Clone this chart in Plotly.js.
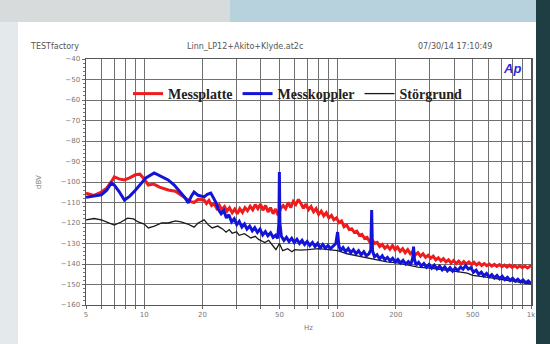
<!DOCTYPE html>
<html><head><meta charset="utf-8">
<script src="https://cdn.plot.ly/plotly-3.0.1.min.js"></script>
<style>html,body{margin:0;padding:0;background:#fff;}#chart{width:550px;height:344px;}</style>
</head><body><div id="chart"></div>
<script>
// Frequencies (Hz) and levels (dBV)
const redFreq = [5.0,5.5,6.0,6.4,6.8,7.0,7.4,7.9,8.4,9.0,9.5,10.0,10.5,11.2,12.0,13.3,14.5,15.5,16.5,17.3,18.1,19.0,
20.4,21,21.6,22.3,23,23.7,24.4,25.2,26,26.8,27.6,28.5,29.4,30.3,31.2,32.2,33.2,34.2,35.3,36.4,37.5,38.7,39.9,41.1,42.4,43.7,45,46.4,47.8,49.2,50.7,52.3,53.9,55.5,57.2,59,60.8,62.7,64.6,66.6,68.6,70.7,72.9,75.1,77.4,79.8,82.3,84.8,87.4,90.1,92.9,95.7,98.7,101.7,104.8,108,111.4,114.8,118.3,122,125.7,129.6,133.6,137.7,141.9,146.3,150.8,155.4,160.2,165.1,170.2,175.5,180.9,186.4,192.2,198.1,204.2,210.5,217,223.6,230.5,237.6,245,252.5,260.3,268.3,276.5,285,293.8,302.9,312.2,321.8,331.7,341.9,352.4,363.3,374.5,386,397.9,410.1,422.7,435.7,449.2,463,477.2,491.9,507.1,522.7,538.8,555.4,572.5,590.1,608.3,627,646.4,666.3,686.8,708,729.8,752.2,775.4,799.3,823.9,849.3,875.4,902.4,930.2,958.9,988.4,1000];
const redDb = [-105.4,-106.5,-104.9,-103.0,-99.5,-97.5,-98.5,-99.0,-98.0,-96.5,-96.2,-98.5,-101.5,-101.0,-102.5,-103.9,-104.5,-106.5,-108.0,-109.5,-110.0,-108.5,
-108.8,-110.5,-109.0,-111.5,-110.5,-112.8,-111.2,-113.5,-112.0,-114.2,-112.6,-115.0,-113.2,-115.5,-113.0,-114.8,-112.5,-114.0,-111.8,-113.6,-111.0,-113.0,-110.8,-113.8,-111.5,-114.6,-112.5,-115.5,-113.2,-116.2,-113.0,-111.5,-113.0,-110.0,-112.5,-109.5,-111.0,-108.5,-110.5,-112.8,-110.8,-113.5,-112.0,-114.5,-113.0,-115.8,-114.2,-116.5,-115.0,-117.5,-116.3,-118.4,-117.5,-119.8,-119.0,-121.8,-121.0,-123.2,-122.8,-124.6,-124.0,-126.0,-125.5,-127.5,-127.0,-129.0,-128.3,-130.0,-129.5,-131.5,-130.5,-132.3,-131.2,-132.8,-131.0,-133.0,-131.8,-133.8,-132.5,-134.5,-133.0,-135.0,-133.8,-135.5,-134.5,-136.2,-135.0,-136.8,-135.8,-137.2,-136.2,-138.0,-137.0,-138.5,-137.4,-139.0,-138.0,-139.5,-138.3,-139.8,-138.6,-140.0,-138.8,-140.0,-139.0,-140.2,-139.2,-140.5,-139.5,-140.7,-139.8,-140.8,-140.0,-141.0,-140.2,-141.2,-140.3,-141.3,-140.5,-141.5,-140.6,-141.6,-140.8,-141.8,-140.9,-141.8,-141.0,-141.9,-141.1,-141.5];

const blueFreq = [5.0,5.5,6.0,6.4,6.76,7.0,7.4,7.9,8.4,9.0,9.5,10.2,11.26,12.0,13.3,14.3,15.5,16.2,16.9,17.5,18.1,19.0,20.4,21.2,
22.1,22.8,23.5,24.2,25,25.8,26.6,27.4,28.3,29.2,30.1,31,32,33,34,35.1,36.2,37.3,38.5,39.7,41,42.3,43.6,45,46.4,47.8,49.0,49.7,50,50.3,51.2,52.8,54.4,56.1,57.9,59.7,61.6,63.5,65.5,67.5,69.6,71.8,74.1,76.4,78.8,81.3,83.8,86.5,89.2,92,94.9,97.9,100,101.5,103.5,106.7,110,113.5,117,120.7,124.5,128.4,132.4,136.6,140.9,145.3,148.5,150,151.5,155,159.9,164.9,170.1,175.5,181,186.7,192.6,198.7,205,211.4,218,224.9,232,239.3,244.5,247,249.5,254.5,262.5,270.8,279.4,288.2,297.3,306.7,316.4,326.4,336.7,347.3,358.3,369.6,381.3,393.3,405.7,418.5,431.7,445.3,459.4,473.9,488.8,504.3,520.2,536.6,553.5,571,589,607.6,626.8,646.6,667,688,709.7,732.1,755.2,779,803.6,829,855.1,882.1,910,938.7,968.3,1000];
const blueDb = [-107.5,-107.0,-106.3,-104.0,-100.5,-101.5,-104.5,-108.8,-107.0,-104.0,-101.5,-98.0,-95.6,-97.0,-99.0,-101.5,-105.4,-107.5,-110.2,-107.0,-104.9,-106.5,-107.3,-106.0,
-105.4,-107.5,-110.0,-113.5,-115.5,-114.0,-117.5,-116.0,-119.5,-118.0,-120.8,-119.2,-122.0,-120.5,-123.0,-121.5,-123.8,-122.3,-124.6,-123.0,-125.8,-124.2,-126.2,-124.8,-127.0,-126.0,-127.5,-120.0,-95.1,-120.0,-126.5,-128.5,-127.0,-129.0,-127.5,-129.5,-128.0,-130.0,-128.5,-130.5,-129.0,-131.0,-129.5,-131.5,-130.0,-132.0,-130.5,-132.3,-131.0,-132.5,-131.2,-130.0,-124.4,-131.0,-133.5,-132.0,-134.0,-132.5,-134.5,-133.0,-135.0,-133.5,-135.5,-134.0,-136.0,-135.0,-133.0,-113.7,-133.5,-136.5,-135.5,-137.5,-136.0,-138.0,-136.8,-138.5,-137.2,-139.0,-137.8,-139.5,-138.2,-140.0,-138.8,-140.2,-137.0,-131.5,-137.5,-140.5,-139.2,-141.0,-139.8,-141.5,-140.2,-142.0,-140.6,-142.4,-141.0,-142.8,-141.4,-143.3,-141.8,-143.5,-142.0,-143.2,-141.5,-142.5,-140.8,-142.5,-141.8,-144.0,-143.0,-145.0,-144.0,-145.8,-144.6,-146.3,-145.2,-146.8,-145.6,-147.2,-146.0,-147.6,-146.5,-148.0,-147.0,-148.4,-147.4,-148.8,-147.8,-149.2,-148.3,-149.5];

const blackFreq = [5.0,5.5,6.0,6.5,7.0,7.6,8.2,8.8,9.3,10.0,10.5,11.3,12.3,13.3,14.5,15.5,16.8,18.1,19.0,20.4,21.5,22.5,24,25.5,26.5,27.5,28.5,30,31,33,35.6,37.5,39,42,44,46.8,48,50,52,55.2,58,60,64.4,70,80,90,100,112,125,142.8,160,180,203.8,230,260,300,350,400,467.7,500,600,700,800,900,1000];
const blackDb = [-118.5,-117.8,-118.5,-120.0,-121.0,-119.5,-117.6,-118.0,-119.5,-120.5,-122.4,-121.5,-120.0,-120.0,-119.0,-119.5,-120.5,-122.0,-120.0,-118.5,-121.0,-122.4,-121.5,-123.0,-124.5,-123.2,-125.0,-124.3,-126.0,-125.2,-127.3,-126.5,-128.0,-129.5,-128.5,-131.7,-133.0,-130.0,-133.5,-132.5,-134.0,-133.0,-133.2,-133.0,-132.5,-133.0,-133.5,-135.0,-136.0,-137.0,-138.0,-139.0,-139.5,-140.5,-141.5,-142.0,-143.0,-143.5,-144.5,-145.5,-146.5,-147.5,-148.0,-149.0,-149.8];

const seriesNames = ["Messplatte","Messkoppler","Störgrund"];
const xGridVals = [5,6,7,8,9,10,20,30,40,50,60,70,80,90,100,200,300,400,500,600,700,800,900,1000];
const xLabelMap = {5:"5",10:"10",20:"20",50:"50",100:"100",200:"200",500:"500",1000:"1k"};
const yTickVals = [-160,-150,-140,-130,-120,-110,-100,-90,-80,-70,-60,-50,-40];

const traces = [
  {x: blackFreq, y: blackDb, name: seriesNames[2], type:'scatter', mode:'lines',
   line:{color:'#1a1a1a', width:1.3}, legendrank:3},
  {x: redFreq, y: redDb, name: seriesNames[0], type:'scatter', mode:'lines',
   line:{color:'#ee1c1c', width:3}, legendrank:1},
  {x: blueFreq, y: blueDb, name: seriesNames[1], type:'scatter', mode:'lines',
   line:{color:'#1414d8', width:3}, legendrank:2}
];

// helpers: pixel -> paper coords (plot area 86..531 x, 59..305 y)
const px = x => (x-86)/445;
const py = y => (305-y)/246;

const layout = {
  width:550, height:344,
  margin:{l:86, r:19, t:59, b:39},
  paper_bgcolor:'#ffffff', plot_bgcolor:'#ffffff',
  showlegend:true,
  legend:{orientation:'h', x:px(128), y:py(78), xanchor:'left', yanchor:'top',
    bgcolor:'rgba(0,0,0,0)', font:{family:'Liberation Serif', size:14, color:'#222', weight:'bold'},
    traceorder:'normal', itemwidth:30},
  xaxis:{type:'log', range:[Math.log10(5), Math.log10(1000)],
    tickvals:xGridVals, ticktext:xGridVals.map(v=>xLabelMap[v]||''),
    showgrid:true, gridcolor:'#707070', gridwidth:1,
    showline:true, linecolor:'#555', linewidth:1, mirror:true,
    ticks:'outside', ticklen:3, tickcolor:'#666',
    tickfont:{family:'DejaVu Sans', size:7, color:'#777'},
    title:{text:'Hz', font:{family:'DejaVu Sans', size:7, color:'#777'}, standoff:6},
    zeroline:false},
  yaxis:{range:[-160,-40], tickvals:yTickVals,
    showgrid:true, gridcolor:'#707070', gridwidth:1,
    showline:true, linecolor:'#555', linewidth:1.5, mirror:true,
    ticks:'outside', ticklen:3, tickcolor:'#666',
    minor:{dtick:2, ticks:'outside', ticklen:2, tickcolor:'#777', showgrid:false},
    tickfont:{family:'DejaVu Sans', size:7, color:'#777'},
    title:{text:'dBV', font:{family:'DejaVu Sans', size:7, color:'#777'}, standoff:18},
    zeroline:false},
  shapes:[
    {type:'rect', xref:'paper', yref:'paper', x0:px(0), x1:px(550), y0:py(22), y1:py(0), fillcolor:'#d8dbdc', line:{width:0}},
    {type:'rect', xref:'paper', yref:'paper', x0:px(230), x1:px(550), y0:py(22), y1:py(0), fillcolor:'#b8d2dd', line:{width:0}},
    {type:'rect', xref:'paper', yref:'paper', x0:px(0), x1:px(18), y0:py(344), y1:py(22), fillcolor:'#e4e9ec', line:{width:0}},
    {type:'rect', xref:'paper', yref:'paper', x0:px(536), x1:px(550), y0:py(344), y1:py(0), fillcolor:'#1f3e43', line:{width:0}}
  ],
  annotations:[
    {text:'TESTfactory', xref:'paper', yref:'paper', x:px(28), y:py(46), xanchor:'left', yanchor:'middle', showarrow:false,
     font:{family:'DejaVu Sans', size:8, color:'#555'}},
    {text:'Linn_LP12+Akito+Klyde.at2c', xref:'paper', yref:'paper', x:px(245), y:py(46), xanchor:'center', yanchor:'middle', showarrow:false,
     font:{family:'DejaVu Sans', size:8, color:'#555'}},
    {text:'07/30/14 17:10:49', xref:'paper', yref:'paper', x:px(494), y:py(46), xanchor:'right', yanchor:'middle', showarrow:false,
     font:{family:'DejaVu Sans', size:8, color:'#555'}},
    {text:'<b><i>Ap</i></b>', xref:'paper', yref:'paper', x:px(512), y:py(68), xanchor:'center', yanchor:'middle', showarrow:false,
     font:{family:'Liberation Sans', size:13, color:'#2a2ad8'}}
  ]
};

Plotly.newPlot('chart', traces, layout, {displayModeBar:false, staticPlot:true});
</script>
</body></html>
